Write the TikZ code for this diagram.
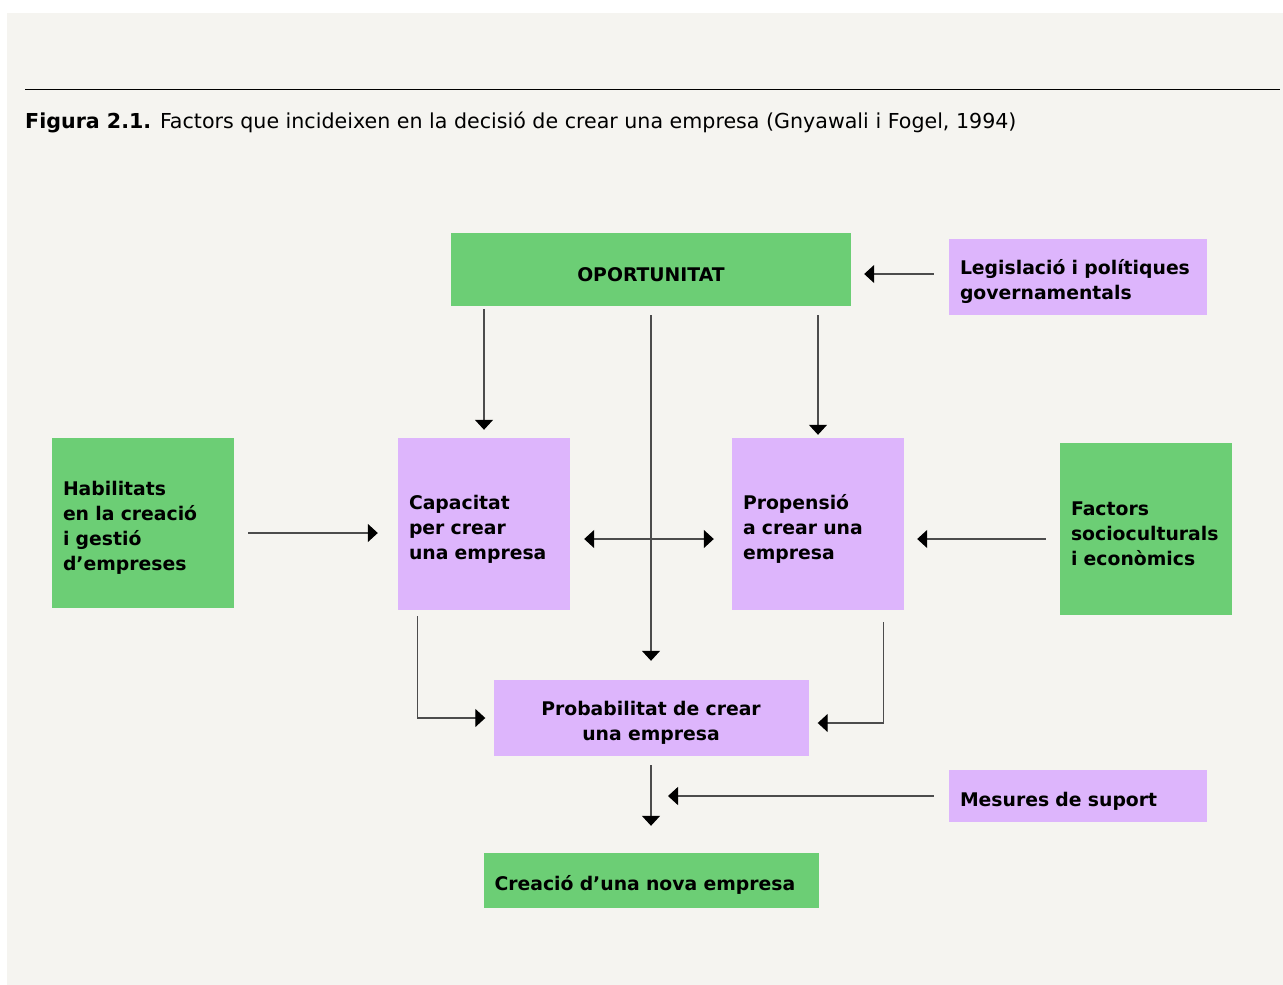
\documentclass[tikz,border=0pt]{standalone}
\usepackage{fontspec}
\setmainfont{DejaVu Sans}
\usetikzlibrary{positioning,arrows.meta}
\definecolor{fonsgris}{HTML}{F5F4F0}
\definecolor{verd}{HTML}{6CCE75}
\definecolor{lila}{HTML}{DDB5FC}

\begin{document}
\begin{tikzpicture}
[x=1pt, y=-1pt,
 caixa/.style={rectangle, inner xsep=11pt, inner ysep=0pt, align=left,
   font=\bfseries\fontsize{18.8}{25}\selectfont,
   execute at begin node={\rule{0pt}{24pt}}},
 caixaverda/.style={caixa, fill=verd},
 caixalila/.style={caixa, fill=lila},
 fletxa/.style={draw=black!70, line width=1.3pt, -{Triangle[length=10pt,width=18pt,color=black]}},
 doble/.style={fletxa, {Triangle[length=10pt,width=18pt,color=black]}-{Triangle[length=10pt,width=18pt,color=black]}}]
\useasboundingbox (0,0) rectangle (1283,985);
\fill[fonsgris] (7,13) rectangle (1283,985);
\draw[line width=1pt] (25,89) -- (1280,89);
\node[anchor=base west, inner sep=0pt, font=\fontsize{20.6}{24}\selectfont] (titol) at (25,128)
  {\textbf{Figura 2.1.} Factors que incideixen en la decisió de crear una empresa (Gnyawali i Fogel, 1994)};

% caixes
\node[caixaverda, text width=378pt, minimum height=73pt, align=center] (opor) at (651,269.5) {OPORTUNITAT};
\node[caixalila, text width=236pt, minimum height=76pt] (legis) at (1078,277) {Legislació i polítiques\\governamentals};
\node[caixaverda, text width=160pt, minimum height=170pt] (habil) at (143,523) {Habilitats\\en la creació\\i gestió\\d’empreses};
\node[caixalila, text width=150pt, minimum height=172pt] (capac) at (484,524) {Capacitat\\per crear\\una empresa};
\node[caixalila, text width=150pt, minimum height=172pt] (propen) at (818,524) {Propensió\\a crear una\\empresa};
\node[caixaverda, text width=150pt, minimum height=172pt] (factors) at (1146,529) {Factors\\socioculturals\\i econòmics};
\node[caixalila, text width=293pt, minimum height=76pt, align=center] (probab) at (651,718) {Probabilitat de crear\\una empresa};
\node[caixalila, text width=236pt, minimum height=52pt] (mesures) at (1078,796) {Mesures de suport};
\node[caixaverda, text width=313pt, minimum height=55pt] (creacio) at (651,880.5) {Creació d’una nova empresa};

% fletxes
\draw[fletxa, shorten <=3pt, shorten >=8pt] (opor.south -| capac.north) -- (capac.north);
\draw[fletxa, shorten <=9pt, shorten >=3pt] (opor.south -| propen.north) -- (propen.north);
\draw[fletxa, shorten <=9pt, shorten >=19pt] (opor.south) -- (probab.north);
\draw[fletxa, shorten <=15pt, shorten >=13pt] ([yshift=3pt]legis.west) -- ([yshift=3pt]legis.west -| opor.east);
\draw[fletxa, shorten <=14pt, shorten >=20pt] ([yshift=-10pt]habil.east) -- ([yshift=-10pt]habil.east -| capac.west);
\draw[doble, shorten <=14pt, shorten >=18pt] ([yshift=-15pt]capac.east) -- ([yshift=-15pt]capac.east -| propen.west);
\draw[fletxa, shorten <=14pt, shorten >=13pt] ([yshift=-10pt]factors.west) -- ([yshift=-10pt]factors.west -| propen.east);
\draw[fletxa] ([xshift=20pt,yshift=-6pt]capac.south west) |- ([xshift=-8pt]probab.west);
\draw[fletxa] ([xshift=-21pt,yshift=-12pt]propen.south east) |- ([xshift=9pt,yshift=-5pt]probab.east);
\draw[fletxa, shorten <=9pt, shorten >=27pt] (probab.south) -- (creacio.north);
\draw[fletxa, shorten <=15pt] (mesures.west) -- ([xshift=17pt]mesures.west -| probab.south);
\end{tikzpicture}
\end{document}
